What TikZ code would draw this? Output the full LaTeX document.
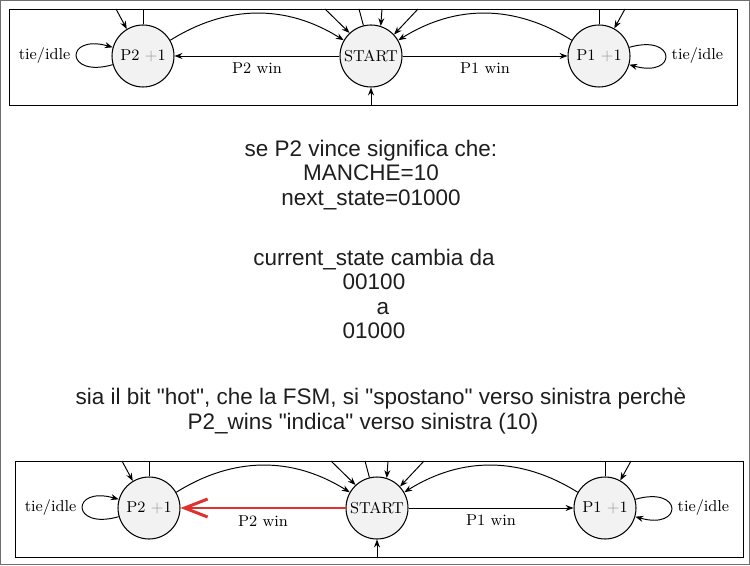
\documentclass[tikz,border=0pt]{standalone}
\usepackage{fontspec}
\newfontfamily\handfont{Liberation Sans}
\usetikzlibrary{arrows.meta}

\definecolor{statefill}{RGB}{242,242,242}
\definecolor{plusgray}{RGB}{160,160,160}
\definecolor{framegray}{RGB}{110,110,110}
\definecolor{hotred}{RGB}{224,49,49}
\definecolor{ink}{RGB}{30,30,30}

\tikzset{
  state/.style={circle, draw, fill=statefill, line width=0.6pt, minimum size=1.24cm, inner sep=0pt, font=\fontsize{9}{11}\selectfont},
  edgelbl/.style={font=\fontsize{9}{11}\selectfont},
  plain/.style={line width=0.55pt},
  arc/.style={line width=0.55pt, -{Stealth[length=4.5pt,width=3.4pt]}},
  redarc/.style={draw=hotred, line width=1.7pt, line cap=round, -{Straight Barb[length=0.46cm,width=0.36cm]}},
  hand/.style={font=\handfont\fontsize{12.8}{13.9}\selectfont, text=ink, align=center},
}

% one copy of the FSM cut-out: #1 prefix, #2 shift, #3 style of the P2 win edge
\newcommand{\fsmpanel}[3]{%
\begin{scope}[shift={#2}]
\draw[plain] (9,460) rectangle (737,556);
\node[state] (#1p2) at (143,509) {P2 {\color{plusgray}+}1};
\node[state] (#1start) at (371,509) {START};
\node[state] (#1p1) at (599,509) {P1 {\color{plusgray}+}1};
% free ends on the frame
\coordinate (#1inp2) at (116,556);
\coordinate (#1outp2) at (143,556);
\coordinate (#1ina) at (325,556);
\coordinate (#1outs) at (359,556);
\coordinate (#1inb) at (382,556);
\coordinate (#1inc) at (418,556);
\coordinate (#1outp1) at (599,556);
\coordinate (#1inp1) at (625,556);
\coordinate (#1ins) at (371,460);
% edges
\draw[#3] (#1start) -- node[below, edgelbl] {P2 win} (#1p2);
\draw[arc] (#1start) -- node[below, edgelbl] {P1 win} (#1p1);
\draw[arc] (#1p2.30) to[out=32, in=148] (#1start.150);
\draw[arc] (#1p1.150) to[out=148, in=32] (#1start.30);
\draw[arc] (#1p2.196) .. controls +(196:1cm) and +(164:1cm) .. node[left, edgelbl] {tie/idle} (#1p2.164);
\draw[arc] (#1p1.16) .. controls +(16:1cm) and +(-16:1cm) .. node[right, edgelbl] {tie/idle} (#1p1.-16);
\draw[arc] (#1inp2) -- (#1p2.121);
\draw[plain] (#1p2.north) -- (#1outp2);
\draw[arc] (#1ina) -- (#1start.133);
\draw[plain] (#1start.104) -- (#1outs);
\draw[arc] (#1inb) -- (#1start.72);
\draw[arc] (#1inc) -- (#1start.43);
\draw[plain] (#1p1.north) -- (#1outp1);
\draw[arc] (#1inp1) -- (#1p1.61);
\draw[arc] (#1ins) -- (#1start.south);
\end{scope}}

\begin{document}
\begin{tikzpicture}[x=0.02cm, y=0.02cm]
\useasboundingbox (0,0) rectangle (750,565);
\draw[framegray, line width=0.85pt] (0.75,0.75) rectangle (749.25,564.25);

\fsmpanel{t}{(0,0)}{arc}
\fsmpanel{b}{(6,-452)}{redarc}

% notes
\node[hand] (cond) at (371,390) {se P2 vince significa che:\\MANCHE=10\\next\_state=01000};
\node[hand] (change) at (374,271) {current\_state cambia da\\00100\\\hspace*{0.8em}a\\01000};
\node[hand] (why) at (381,154) {sia il bit "hot", che la FSM, si "spostano" verso sinistra perchè\\P2\_wins "indica" verso sinistra (10)\hspace*{1.6em}};
\end{tikzpicture}
\end{document}
